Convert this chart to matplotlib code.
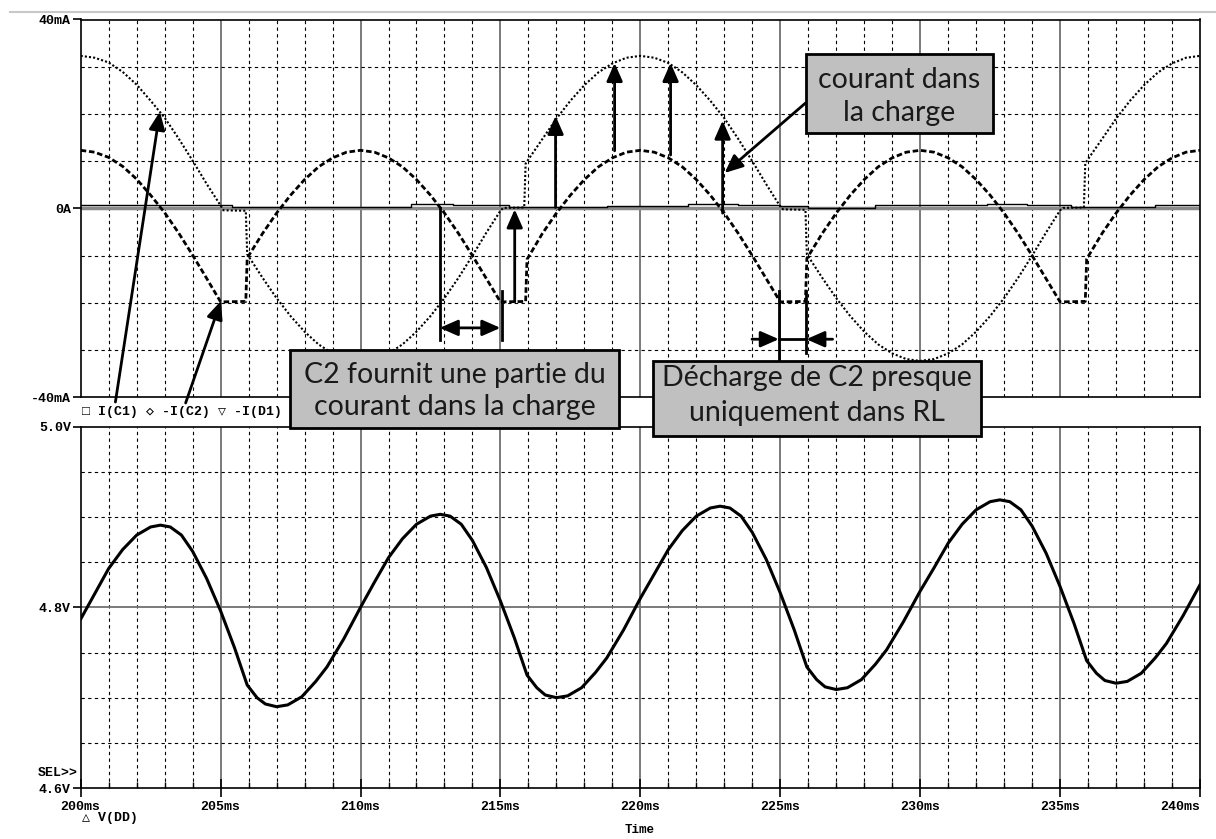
import matplotlib
matplotlib.use('Agg')
import matplotlib.pyplot as plt
from matplotlib.patches import Rectangle
from matplotlib.lines import Line2D

# ---- data ----
# I(C1) in mA (dotted trace)
t_ic1 = [200.0, 200.5, 201.0, 201.5, 202.0, 202.5, 203.0, 203.5, 204.0, 204.5, 205.0, 205.1, 205.9, 205.95,
         206.5, 207.0, 207.5, 208.0, 208.5, 209.0, 209.5, 210.0, 210.5, 211.0, 211.5, 212.0, 212.5, 213.0,
         213.5, 214.0, 214.5, 215.0, 215.1, 215.85, 215.9, 216.5, 217.0, 217.5, 218.0, 218.5, 219.0, 219.5,
         220.0, 220.5, 221.0, 221.5, 222.0, 222.5, 223.0, 223.5, 224.0, 224.5, 225.0, 225.1, 225.9, 225.95,
         226.5, 227.0, 227.5, 228.0, 228.5, 229.0, 229.5, 230.0, 230.5, 231.0, 231.5, 232.0, 232.5, 233.0,
         233.5, 234.0, 234.5, 235.0, 235.1, 235.85, 235.9, 236.5, 237.0, 237.5, 238.0, 238.5, 239.0, 239.5, 240.0]
ic1 = [32.3, 31.9, 30.9, 28.9, 26.2, 22.8, 19.2, 14.8, 10.1, 5.2, 0.6, -0.4, -0.5, -9.7,
       -14.7, -19.0, -22.8, -26.1, -28.8, -30.7, -31.9, -32.3, -31.9, -30.7, -28.8, -26.1, -22.8, -19.0,
       -14.7, -10.0, -5.1, -0.5, 0.1, 0.2, 9.5, 14.7, 19.0, 22.8, 26.1, 28.8, 30.7, 31.9,
       32.3, 31.9, 30.8, 28.8, 26.1, 22.8, 19.1, 14.7, 10.0, 5.1, 0.4, -0.2, -0.3, -9.7,
       -14.7, -19.0, -22.8, -26.1, -28.8, -30.7, -31.9, -32.3, -31.9, -30.7, -28.8, -26.1, -22.8, -19.0,
       -14.7, -10.0, -5.1, -0.4, 0.1, 0.2, 9.6, 14.7, 19.0, 22.8, 26.1, 28.8, 30.7, 31.9, 32.3]

# -I(C2) in mA (dashed trace)
t_ic2 = [200.0, 200.5, 201.0, 201.5, 202.0, 202.5, 203.0, 203.5, 204.0, 204.5, 205.0, 205.9, 205.95,
         206.5, 207.0, 207.5, 208.0, 208.5, 209.0, 209.5, 210.0, 210.5, 211.0, 211.5, 212.0, 212.5,
         213.0, 213.5, 214.0, 214.5, 215.0, 215.9, 215.95, 216.5, 217.0, 217.5, 218.0, 218.5, 219.0,
         219.5, 220.0, 220.5, 221.0, 221.5, 222.0, 222.5, 223.0, 223.5, 224.0, 224.5, 225.0, 225.9,
         225.95, 226.5, 227.0, 227.5, 228.0, 228.5, 229.0, 229.5, 230.0, 230.5, 231.0, 231.5, 232.0,
         232.5, 233.0, 233.5, 234.0, 234.5, 235.0, 235.9, 235.95, 236.5, 237.0, 237.5, 238.0, 238.5,
         239.0, 239.5, 240.0]
ic2 = [12.3, 11.9, 10.8, 8.9, 6.2, 2.8, -0.9, -5.2, -9.9, -14.8, -19.8, -19.7, -10.5,
       -5.3, -1.0, 2.8, 6.1, 8.8, 10.7, 11.9, 12.3, 11.9, 10.7, 8.8, 6.1, 2.8,
       -1.0, -5.3, -10.0, -14.9, -19.8, -19.7, -10.8, -5.3, -1.0, 2.8, 6.1, 8.8, 10.7,
       11.9, 12.3, 11.9, 10.7, 8.8, 6.1, 2.8, -1.0, -5.3, -10.0, -14.9, -19.8, -19.7,
       -10.6, -5.3, -1.0, 2.8, 6.1, 8.8, 10.7, 11.9, 12.3, 11.9, 10.7, 8.8, 6.1,
       2.8, -1.0, -5.3, -10.0, -14.9, -19.8, -19.7, -10.7, -5.3, -1.0, 2.8, 6.1, 8.8,
       10.7, 11.9, 12.3]

# -I(D1) in mA (thin solid, almost zero)
t_id1 = [200.0, 205.4, 211.8, 213.3, 215.3, 218.8, 221.7, 223.5, 225.0, 226.0, 228.4, 232.4, 233.8,
         235.4, 238.4, 240.0]
id1 = [0.7, 0.3, 1.0, 0.7, 0.25, 0.5, 1.0, 0.7, 0.5, 0.15, 0.7, 1.0, 0.7, 0.25, 0.7, 0.7]

# V(DD) in volts
t_vdd = [200.0, 200.5, 201.0, 201.5, 202.0, 202.5, 202.85, 203.2, 203.6, 204.0, 204.5, 205.0, 205.5,
         205.95, 206.3, 206.6, 207.0, 207.4, 207.9, 208.4, 208.8, 209.4,
         210.0, 210.5, 211.0, 211.5, 212.0, 212.5, 212.85, 213.2, 213.6, 214.0, 214.5, 215.0, 215.5,
         215.95, 216.3, 216.6, 217.0, 217.4, 217.9, 218.4, 218.8, 219.4,
         220.0, 220.5, 221.0, 221.5, 222.0, 222.5, 222.85, 223.2, 223.6, 224.0, 224.5, 225.0, 225.5,
         225.95, 226.3, 226.6, 227.0, 227.4, 227.9, 228.4, 228.8, 229.4,
         230.0, 230.5, 231.0, 231.5, 232.0, 232.5, 232.85, 233.2, 233.6, 234.0, 234.5, 235.0, 235.5,
         235.95, 236.3, 236.6, 237.0, 237.4, 237.9, 238.4, 238.8, 239.4, 240.0]
vdd = [4.787, 4.815, 4.843, 4.864, 4.880, 4.889, 4.891, 4.889, 4.880, 4.862, 4.832, 4.796, 4.755,
       4.714, 4.700, 4.693, 4.690, 4.692, 4.701, 4.718, 4.734, 4.765,
       4.800, 4.828, 4.855, 4.876, 4.892, 4.901, 4.903, 4.901, 4.892, 4.874, 4.844, 4.807, 4.766,
       4.725, 4.711, 4.703, 4.700, 4.702, 4.711, 4.728, 4.744, 4.775,
       4.810, 4.837, 4.864, 4.885, 4.901, 4.910, 4.912, 4.910, 4.901, 4.883, 4.853, 4.816, 4.775,
       4.734, 4.720, 4.712, 4.709, 4.711, 4.720, 4.737, 4.753, 4.784,
       4.818, 4.844, 4.871, 4.892, 4.908, 4.917, 4.919, 4.917, 4.908, 4.890, 4.860, 4.823, 4.782,
       4.741, 4.727, 4.719, 4.716, 4.718, 4.727, 4.744, 4.760, 4.791, 4.825]

x_major = [200, 205, 210, 215, 220, 225, 230, 235, 240]
x_labels = ['200ms', '205ms', '210ms', '215ms', '220ms', '225ms', '230ms', '235ms', '240ms']
x_minor = [t for t in range(200, 241) if t % 5 != 0]
i_grid = [-30, -20, -10, 10, 20, 30]
i_ticks = [-40, 0, 40]
i_labels = ['-40mA', '0A', '40mA']
v_grid = [4.65, 4.70, 4.75, 4.85, 4.90, 4.95]
v_ticks = [4.6, 4.8, 5.0]
v_labels = ['4.6V', '4.8V', '5.0V']

W, H = 1216, 839
def fx(x):
    return x / W
def fy(y):
    return 1 - y / H

mono = ['Liberation Mono', 'DejaVu Sans Mono', 'DejaVu Sans']
box_font = 'Lato'

fig = plt.figure(figsize=(W / 100, H / 100), dpi=100)
ax1 = fig.add_axes([fx(80.7), fy(397.3), fx(1200) - fx(80.7), fy(19.5) - fy(397.3)])
ax2 = fig.add_axes([fx(80.7), fy(788), fx(1200) - fx(80.7), fy(426.7) - fy(788)])

dash = (0, (3, 3))
for ax in (ax1, ax2):
    ax.set_xlim(200, 240)
    for t in x_minor:
        ax.axvline(t, color='k', lw=0.8, ls=dash, zorder=1)
    for t in x_major[1:-1]:
        ax.axvline(t, color='#707070', lw=1.3, zorder=1)
    for s in ax.spines.values():
        s.set_linewidth(1.2)

ax1.set_ylim(-40, 40)
for v in i_grid:
    ax1.axhline(v, color='k', lw=0.8, ls=dash, zorder=1)
ax1.axhline(0, color='#8a8a8a', lw=2.5, zorder=1)
ax2.set_ylim(4.6, 5.0)
for v in v_grid:
    ax2.axhline(v, color='k', lw=0.8, ls=dash, zorder=1)
ax2.axhline(4.8, color='#707070', lw=1.3, zorder=1)

# traces
ax1.plot(t_ic1, ic1, color='k', lw=1.5, ls=(0, (1, 1)), zorder=3)
ax1.plot(t_ic2, ic2, color='k', lw=2.0, ls=(0, (2, 1)), zorder=3)
ax1.plot(t_id1, id1, color='k', lw=1.0, drawstyle='steps-post', zorder=3)
ax2.plot(t_vdd, vdd, color='k', lw=2.2, zorder=3)

# ticks
ax1.set_xticks([])
ax1.set_yticks(i_ticks)
ax1.set_yticklabels(i_labels)
ax2.set_yticks(v_ticks)
ax2.set_yticklabels(v_labels)
ax2.set_xticks(x_major)
ax2.set_xticklabels(x_labels)
ax2.set_xticks(x_minor, minor=True)
for ax in (ax1, ax2):
    ax.tick_params(axis='y', direction='out', length=6, width=1.2, pad=1)
    for lab in ax.get_yticklabels():
        lab.set_fontfamily(mono)
        lab.set_fontweight('bold')
        lab.set_fontsize(9.5)
ax2.tick_params(axis='x', which='major', direction='inout', length=13, width=1.2, pad=3)
ax2.tick_params(axis='x', which='minor', direction='in', length=4, width=1)
for lab in ax2.get_xticklabels():
    lab.set_fontfamily(mono)
    lab.set_fontweight('bold')
    lab.set_fontsize(9.5)
ax2.get_xticklabels()[-1].set_horizontalalignment('right')

# extra texts in PSpice style
fig.text(fx(82), fy(412), '\u25a1 I(C1) \u25c7 -I(C2) \u25bd -I(D1)', family=mono, weight='bold',
         fontsize=9.5, va='center', ha='left')
fig.text(fx(78), fy(773), 'SEL>>', family=mono, weight='bold', fontsize=9.5, va='center', ha='right')
fig.text(fx(82), fy(818), '\u25b3 V(DD)', family=mono, weight='bold', fontsize=9.5, va='center', ha='left')
fig.text(fx(640), fy(830), 'Time', family=mono, weight='bold', fontsize=9, va='center', ha='center')
fig.add_artist(Line2D([fx(10), 1.0], [fy(12), fy(12)], color='#c8c8c8', lw=1.5))

# annotations
head = '-|>,head_length=0.5,head_width=0.22'
def arrow(x0, y0, x1, y1, style=head):
    ax1.annotate('', xy=(x1, y1), xytext=(x0, y0), annotation_clip=False,
                 arrowprops=dict(arrowstyle=style, mutation_scale=22, lw=2, color='k',
                                 shrinkA=0, shrinkB=0), zorder=6)

arrow(201.24, -41.0, 202.83, 20.5)
arrow(203.75, -41.2, 205.01, -19.6)
arrow(215.51, -19.8, 215.51, -0.2)
arrow(216.97, 0.2, 216.97, 19.6)
arrow(219.08, 12.2, 219.08, 30.8)
arrow(221.08, 11.3, 221.08, 30.8)
arrow(222.94, -1.0, 222.94, 18.6)
arrow(225.90, 22.3, 223.01, 7.5)

ax1.plot([212.83, 212.83], [0, -27.8], color='k', lw=2, zorder=6)
ax1.plot([215.07, 215.07], [-17.4, -27.8], color='k', lw=2, zorder=6)
arrow(212.83, -25.3, 215.0, -25.3, style='<|-|>,head_length=0.5,head_width=0.22')

ax1.plot([224.95, 224.95], [-17.4, -32.1], color='k', lw=2, zorder=6)
ax1.plot([225.93, 225.93], [-17.4, -30.6], color='k', lw=2, zorder=6)
ax1.plot([224.95, 225.93], [-27.7, -27.7], color='k', lw=2, zorder=6)
arrow(223.99, -27.7, 224.95, -27.7)
arrow(226.87, -27.7, 225.93, -27.7)

# grey text boxes
boxes = [
    (806, 54, 993, 133, ['courant dans', 'la charge'], [80, 113]),
    (290, 350, 619, 428, ['C2 fournit une partie du', 'courant dans la charge'], [375, 407]),
    (653, 361, 981, 436, ['D\u00e9charge de C2 presque', 'uniquement dans RL'], [378, 413]),
]
for x0, y0, x1, y1, lines, ys in boxes:
    fig.add_artist(Rectangle((fx(x0), fy(y1)), fx(x1) - fx(x0), fy(y0) - fy(y1),
                             facecolor='#c0c0c0', edgecolor='k', lw=2, zorder=10))
    for line, yy in zip(lines, ys):
        fig.text(fx((x0 + x1) / 2), fy(yy), line, family=box_font, fontsize=20.5,
                 color='#1a1a1a', ha='center', va='center', zorder=11)

fig.savefig('out.png', dpi=100)
